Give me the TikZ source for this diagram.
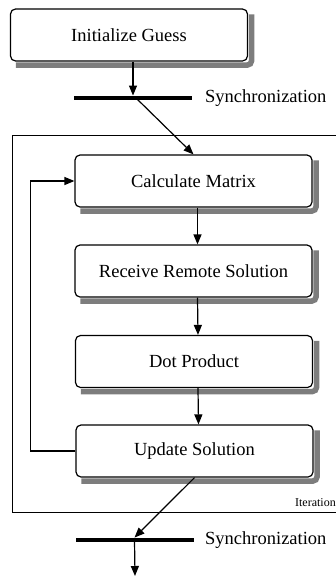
\documentclass[tikz,border=0pt]{standalone}
\usepackage{fontspec}
\setmainfont{Liberation Serif}
\usetikzlibrary{arrows.meta}
\definecolor{shadowgray}{RGB}{125,125,125}
\begin{document}
\begin{tikzpicture}[x=1pt,y=-1pt,
  stepbox/.style={draw, fill=white, line width=1.2pt, rounded corners=5pt,
    minimum width=237pt, minimum height=52pt, inner sep=0pt,
    font=\fontsize{18.5}{20}\selectfont},
  shadowstroke/.style={draw=shadowgray, line width=5.5pt, rounded corners=4pt},
  syncbar/.style={fill=black, inner sep=0pt, minimum width=118pt, minimum height=4.5pt},
  synclabel/.style={anchor=west, inner sep=0pt, font=\fontsize{18.5}{20}\selectfont},
  conn/.style={line width=1.2pt, -{Triangle[length=10pt,width=8pt]}},
  frameline/.style={line width=0.8pt}]
\useasboundingbox (0,0) rectangle (336,576);
% iteration frame
\coordinate (ftr) at (336,135);
\coordinate (ftl) at (12,135);
\coordinate (fbl) at (12,512);
\coordinate (fbr) at (336,512);
\draw[frameline] (ftr) -- (ftl) -- (fbl) -- (fbr);
\node[anchor=east, inner sep=0pt, font=\fontsize{12}{14}\selectfont] (iter) at (336,503) {Iteration};

\node[stepbox] (init) at (129,35) {Initialize Guess};
\node[syncbar] (bar1) at (133,98) {};
\node[synclabel] (sync1) at (205,98) {Synchronization};

\node[stepbox] (calc) at (193.5,181) {Calculate Matrix};
\node[stepbox] (recv) at (193.5,271) {Receive Remote Solution};
\node[stepbox] (dot) at (194,361.5) {Dot Product};
\node[stepbox] (upd) at (194.5,451) {Update Solution};

% drop shadows as strips on the right and bottom of each box
\foreach \bx in {init,calc,recv,dot,upd}{
  \draw[shadowstroke] ([shift={(3.4,6)}]\bx.north east) -- ([shift={(3.4,3.4)}]\bx.south east) -- ([shift={(6,3.4)}]\bx.south west);
}

\node[syncbar] (bar2) at (134.5,540) {};
\node[synclabel] (sync2) at (205,540) {Synchronization};
\coordinate (endpt) at (135,576);

\draw[conn] (init.south -| bar1.north) -- (bar1.north);
\draw[conn] ([xshift=3pt]bar1.center) -- (calc.north);
\draw[conn] ([xshift=4pt]calc.south) -- ([xshift=4pt]recv.north);
\draw[conn] ([xshift=4pt]recv.south) -- ([xshift=4pt]dot.north);
\draw[conn] ([xshift=4pt]dot.south) -- ([xshift=4pt]upd.north);
\draw[conn] (upd.west) -- ++(-45,0) |- (calc.west);
\draw[conn] (upd.south) -- (bar2.north);
\draw[conn] (bar2.center) -- (endpt);
\end{tikzpicture}
\end{document}
